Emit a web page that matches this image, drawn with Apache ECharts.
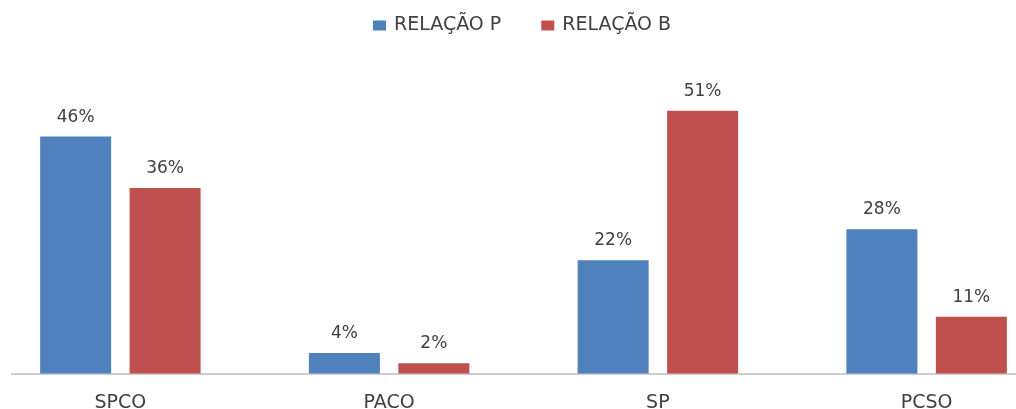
<!DOCTYPE html>
<html>
<head>
<meta charset="utf-8">
<script src="https://cdn.jsdelivr.net/npm/echarts@6/dist/echarts.min.js"></script>
<style>
  html, body { margin: 0; padding: 0; background: #fff; }
  #chart { width: 1016px; height: 409px; }
</style>
</head>
<body>
<div id="chart"></div>
<script>
const categories = ['SPCO', 'PACO', 'SP', 'PCSO'];
const relacaoP = [46, 4, 22, 28];
const relacaoB = [36, 2, 51, 11];
const seriesNames = ['RELAÇÃO P', 'RELAÇÃO B'];

const chart = echarts.init(document.getElementById('chart'));

const labelStyle = {
  show: true,
  position: 'top',
  distance: 11,
  formatter: '{c}%',
  color: '#404040',
  fontSize: 17,
  fontFamily: 'DejaVu Sans'
};

chart.setOption({
  animation: false,
  legend: {
    top: 11,
    left: 368,
    itemWidth: 13,
    itemHeight: 10,
    itemGap: 40,
    icon: 'rect',
    textStyle: {
      color: '#404040',
      fontSize: 19,
      fontFamily: 'DejaVu Sans',
      padding: [0, 0, 0, 3]
    }
  },
  grid: {
    left: -14,
    right: -45,
    top: 64.5,
    bottom: 35.5,
    outerBoundsMode: 'none'
  },
  // the axis line in the original starts a little in from the left edge
  graphic: [{
    type: 'rect',
    left: 0,
    top: 370,
    shape: { width: 11, height: 7 },
    style: { fill: '#fff' },
    z: 100
  }],
  xAxis: {
    type: 'category',
    data: categories,
    axisLine: { lineStyle: { color: '#bcbcbc', width: 1.5 } },
    axisTick: { show: false },
    axisLabel: {
      margin: 20,
      color: '#404040',
      fontSize: 19,
      fontFamily: 'DejaVu Sans'
    }
  },
  yAxis: {
    type: 'value',
    min: 0,
    max: 60,
    show: false,
    splitLine: { show: false }
  },
  series: [
    {
      name: seriesNames[0],
      type: 'bar',
      data: relacaoP,
      barWidth: 71,
      barGap: '26%',
      itemStyle: { color: '#4f81bd' },
      label: labelStyle
    },
    {
      name: seriesNames[1],
      type: 'bar',
      data: relacaoB,
      barWidth: 71,
      itemStyle: { color: '#c0504d' },
      label: labelStyle
    }
  ]
});
</script>
</body>
</html>
